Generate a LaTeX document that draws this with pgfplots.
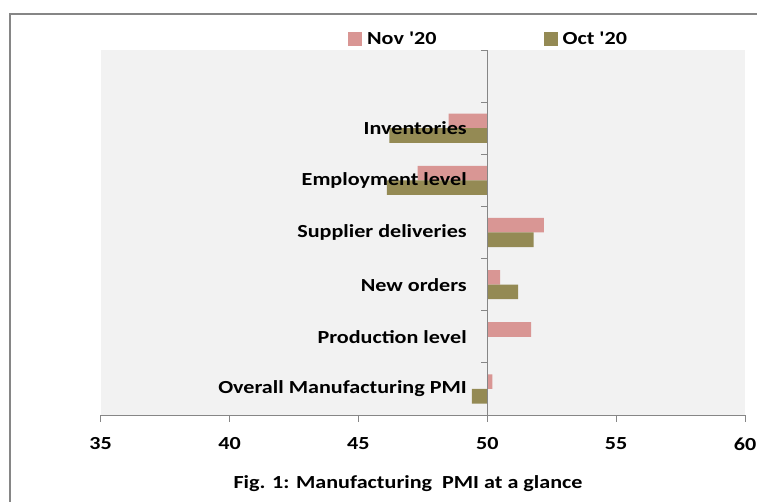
\documentclass[border=0pt]{standalone}
\usepackage{fontspec}
\setmainfont{Carlito}[Ligatures=TeXOff]
\usepackage{graphicx}
\usepackage{pgfplots}
\pgfplotsset{compat=1.18}
\usepackage{pgfplotstable}

\definecolor{novc}{RGB}{217,150,148}
\definecolor{octc}{RGB}{148,138,84}
\definecolor{bgc}{RGB}{242,242,242}
\definecolor{linec}{RGB}{134,134,134}
\newcommand{\ff}{\fontsize{18.5}{20}\selectfont\bfseries}
\newcommand{\wide}[1]{\scalebox{1.2}[1]{#1}}

% PMI components, position 0 = bottom row
\pgfplotstableread{
pos nov oct
0 50.2 49.4
1 51.7 50.0
2 50.5 51.2
3 52.2 51.8
4 47.3 46.1
5 48.5 46.2
}\pmidata

\begin{document}
\begin{tikzpicture}[x=1bp,y=1bp]
\begin{axis}[
    width=644.3bp, height=365bp, scale only axis,
    xmin=-15, xmax=10, ymin=-0.5, ymax=6.5,
    axis x line=bottom, axis y line=middle,
    axis on top,
    axis line style={-, linec, line width=0.8bp},
    axis background/.style={fill=bgc},
    tick align=outside,
    tick style={linec, line width=0.8bp},
    major tick length=7bp, minor tick length=6bp,
    xtick={-15,-10,...,10},
    xticklabels={\wide{35},\wide{40},\wide{45},\wide{50},\wide{55},\wide{60}},
    ytick={0,...,6},
    yticklabels={\wide{Overall Manufacturing PMI},\wide{Production level},\wide{New orders},
                 \wide{Supplier deliveries},\wide{Employment level},\wide{Inventories},{}},
    major y tick style={draw=none},
    minor ytick={-0.5,0.5,...,6.5},
    tick label style={font=\ff},
    xticklabel style={yshift=-12bp},
    yticklabel style={xshift=-10bp},
    xbar, bar width=14.6bp,
    legend columns=2,
    legend style={at={(0.602,1.031)}, anchor=center, draw=none, fill=none, font=\ff,
                  /tikz/column 2/.style={column sep=105bp}},
]
\coordinate (sw) at (rel axis cs:0,0);
\addplot[fill=novc, draw=none, bar shift=7.3bp,
    legend image code/.code={\fill[novc] (0bp,-7bp) rectangle (14bp,7bp);}]
    table[y=pos, x expr=\thisrow{nov}-50] {\pmidata};
\addplot[fill=octc, draw=none, bar shift=-7.3bp,
    legend image code/.code={\fill[octc] (0bp,-7bp) rectangle (14bp,7bp);}]
    table[y=pos, x expr=\thisrow{oct}-50] {\pmidata};
\legend{\hspace{3bp}\wide{Nov '20},\hspace{3bp}\wide{Oct '20}}
\end{axis}
\pgfresetboundingbox
\path[use as bounding box] ([shift={(-100.7,-87)}]sw) rectangle ++(757,502);
\draw[linec, line width=2bp] ([shift={(-90.7,-87)}]sw) -- ++(0,488) -- ++(747,0);
\node[font=\ff] at ([shift={(307.3,-69)}]sw) {\wide{Fig. 1: Manufacturing\ \ PMI at a glance}};
\end{tikzpicture}
\end{document}
